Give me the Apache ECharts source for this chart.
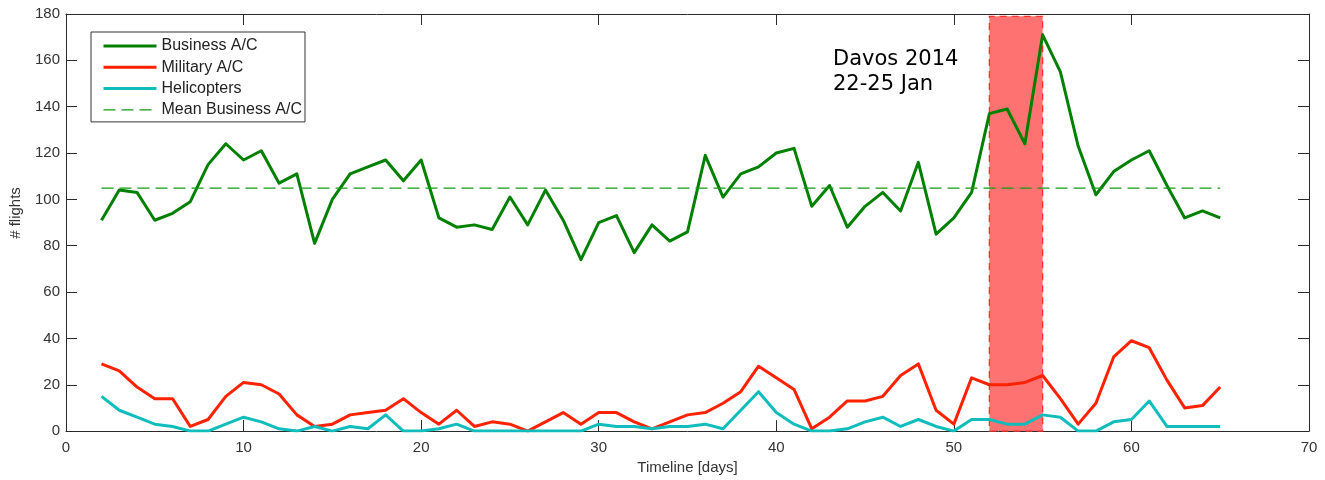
<!DOCTYPE html>
<html>
<head>
<meta charset="utf-8">
<title>Flights timeline – Davos 2014</title>
<script src="https://cdn.jsdelivr.net/npm/echarts@6/dist/echarts.min.js"></script>
<style>
  html, body { margin: 0; padding: 0; background: #fff; }
  #chart { width: 1325px; height: 480px; }
</style>
</head>
<body>
<div id="chart"></div>
<script>
// Daily flight counts along the timeline (days 2 to 65)
const days = [2, 3, 4, 5, 6, 7, 8, 9, 10, 11, 12, 13, 14, 15, 16, 17, 18, 19, 20, 21,
  22, 23, 24, 25, 26, 27, 28, 29, 30, 31, 32, 33, 34, 35, 36, 37, 38, 39, 40, 41,
  42, 43, 44, 45, 46, 47, 48, 49, 50, 51, 52, 53, 54, 55, 56, 57, 58, 59, 60, 61,
  62, 63, 64, 65];

const business = [91, 104, 103, 91, 94, 99, 115, 124, 117, 121,
  107, 111, 81, 100, 111, 114, 117, 108, 117, 92,
  88, 89, 87, 101, 89, 104, 91, 74, 90, 93,
  77, 89, 82, 86, 119, 101, 111, 114, 120, 122,
  97, 106, 88, 97, 103, 95, 116, 85, 92, 103,
  137, 139, 124, 171, 155, 123, 102, 112, 117, 121,
  106, 92, 95, 92];

const military = [29, 26, 19, 14, 14, 2, 5, 15, 21, 20,
  16, 7, 2, 3, 7, 8, 9, 14, 8, 3,
  9, 2, 4, 3, 0, 4, 8, 3, 8, 8,
  4, 1, 4, 7, 8, 12, 17, 28, 23, 18,
  1, 6, 13, 13, 15, 24, 29, 9, 3, 23,
  20, 20, 21, 24, 14, 3, 12, 32, 39, 36,
  22, 10, 11, 19];

const helicopters = [15, 9, 6, 3, 2, 0, 0, 3, 6, 4,
  1, 0, 2, 0, 2, 1, 7, 0, 0, 1,
  3, 0, 0, 0, 0, 0, 0, 0, 3, 2,
  2, 1, 2, 2, 3, 1, 9, 17, 8, 3,
  0, 0, 1, 4, 6, 2, 5, 2, 0, 5,
  5, 3, 3, 7, 6, 0, 0, 4, 5, 13,
  2, 2, 2, 2];

const seriesNames = ['Business A/C', 'Military A/C', 'Helicopters', 'Mean Business A/C'];

// Davos 2014 event window (timeline days) and its label
const davosDays = [52, 55];
const davosTop = 179;
const davosLabel = ['Davos 2014', '22-25 Jan'];

const xRange = [0, 70, 10];
const yRange = [0, 180, 20];
const xTitle = 'Timeline [days]';
const yTitle = '# flights';

const meanBusiness = business.reduce((s, v) => s + v, 0) / business.length;

const pairs = (vals) => days.map((d, i) => [d, vals[i]]);

const axisColor = '#2a2a2a';
const labelFont = 'Liberation Sans, Arial, sans-serif';
const clear = 'rgba(0,0,0,0)';

const chart = echarts.init(document.getElementById('chart'), null, { renderer: 'canvas' });

// Box frame: every side carries its own axis line with inward ticks
const baseX = {
  type: 'value', min: xRange[0], max: xRange[1], interval: xRange[2],
  splitLine: { show: false },
  axisLine: { show: true, onZero: false, lineStyle: { color: axisColor, width: 1 } },
  axisTick: { show: true, inside: true, length: 11, lineStyle: { color: axisColor } }
};
const baseY = {
  type: 'value', min: yRange[0], max: yRange[1], interval: yRange[2],
  splitLine: { show: false },
  axisLine: { show: true, onZero: false, lineStyle: { color: axisColor, width: 1 } },
  axisTick: { show: true, inside: true, length: 11, lineStyle: { color: axisColor } }
};

chart.setOption({
  animation: false,
  backgroundColor: '#fff',
  grid: { left: 66, right: 16, top: 14, bottom: 45, show: false },
  xAxis: [
    Object.assign({}, baseX, {
      position: 'bottom',
      axisLabel: { fontFamily: labelFont, fontSize: 15, color: '#333', margin: 9 },
      name: xTitle, nameLocation: 'middle', nameGap: 26,
      nameTextStyle: { fontFamily: labelFont, fontSize: 15, color: '#333' }
    }),
    Object.assign({}, baseX, { position: 'top', axisLabel: { show: false } })
  ],
  yAxis: [
    Object.assign({}, baseY, {
      position: 'left',
      axisLabel: { fontFamily: labelFont, fontSize: 15, color: '#333', margin: 6 }
    }),
    Object.assign({}, baseY, { position: 'right', axisLabel: { show: false } })
  ],
  legend: {
    data: seriesNames,
    orient: 'vertical',
    left: 91, top: 32,
    padding: [6, 3, 4, 11],
    itemGap: 5.3,
    itemWidth: 53, itemHeight: 16,
    backgroundColor: '#fff',
    borderColor: '#333', borderWidth: 1, borderRadius: 0,
    // line-only keys: the marker dot is made fully transparent
    itemStyle: { color: clear, borderColor: clear, borderWidth: 0 },
    lineStyle: { width: 'inherit' },
    textStyle: { fontFamily: labelFont, fontSize: 16, color: '#222' }
  },
  series: [
    {
      name: 'Davos window', type: 'line', data: [], z: 1, silent: true,
      markArea: {
        silent: true,
        itemStyle: {
          color: '#ff7272', borderColor: '#ff3030', borderWidth: 1.3, borderType: [7, 5]
        },
        data: [[{ xAxis: davosDays[0], yAxis: 0 }, { xAxis: davosDays[1], yAxis: davosTop }]]
      }
    },
    {
      name: seriesNames[0], type: 'line', data: pairs(business), z: 3,
      symbol: 'none', showSymbol: false,
      lineStyle: { color: '#008000', width: 3, join: 'round' },
      itemStyle: { color: '#008000' }
    },
    {
      name: seriesNames[1], type: 'line', data: pairs(military), z: 3,
      symbol: 'none', showSymbol: false,
      lineStyle: { color: '#ff2200', width: 3, join: 'round' },
      itemStyle: { color: '#ff2200' }
    },
    {
      name: seriesNames[2], type: 'line', data: pairs(helicopters), z: 3,
      symbol: 'none', showSymbol: false,
      lineStyle: { color: '#10bcbc', width: 3, join: 'round' },
      itemStyle: { color: '#10bcbc' }
    },
    {
      name: seriesNames[3], type: 'line', z: 3,
      data: [[days[0], meanBusiness], [days[days.length - 1], meanBusiness]],
      symbol: 'none', showSymbol: false,
      lineStyle: { color: '#159a15', width: 1.2, type: [12, 6] },
      itemStyle: { color: '#159a15' }
    }
  ],
  graphic: [
    {
      type: 'text', x: 16, y: 213, rotation: Math.PI / 2,
      style: {
        text: yTitle, font: '15px ' + labelFont, fill: '#333',
        align: 'center', verticalAlign: 'middle'
      }
    },
    {
      type: 'text', x: 833, y: 60,
      style: {
        text: davosLabel[0], font: '21px "DejaVu Sans"', fill: '#000',
        align: 'left', verticalAlign: 'middle'
      }
    },
    {
      type: 'text', x: 833, y: 85,
      style: {
        text: davosLabel[1], font: '21px "DejaVu Sans"', fill: '#000',
        align: 'left', verticalAlign: 'middle'
      }
    }
  ]
});
</script>
</body>
</html>
